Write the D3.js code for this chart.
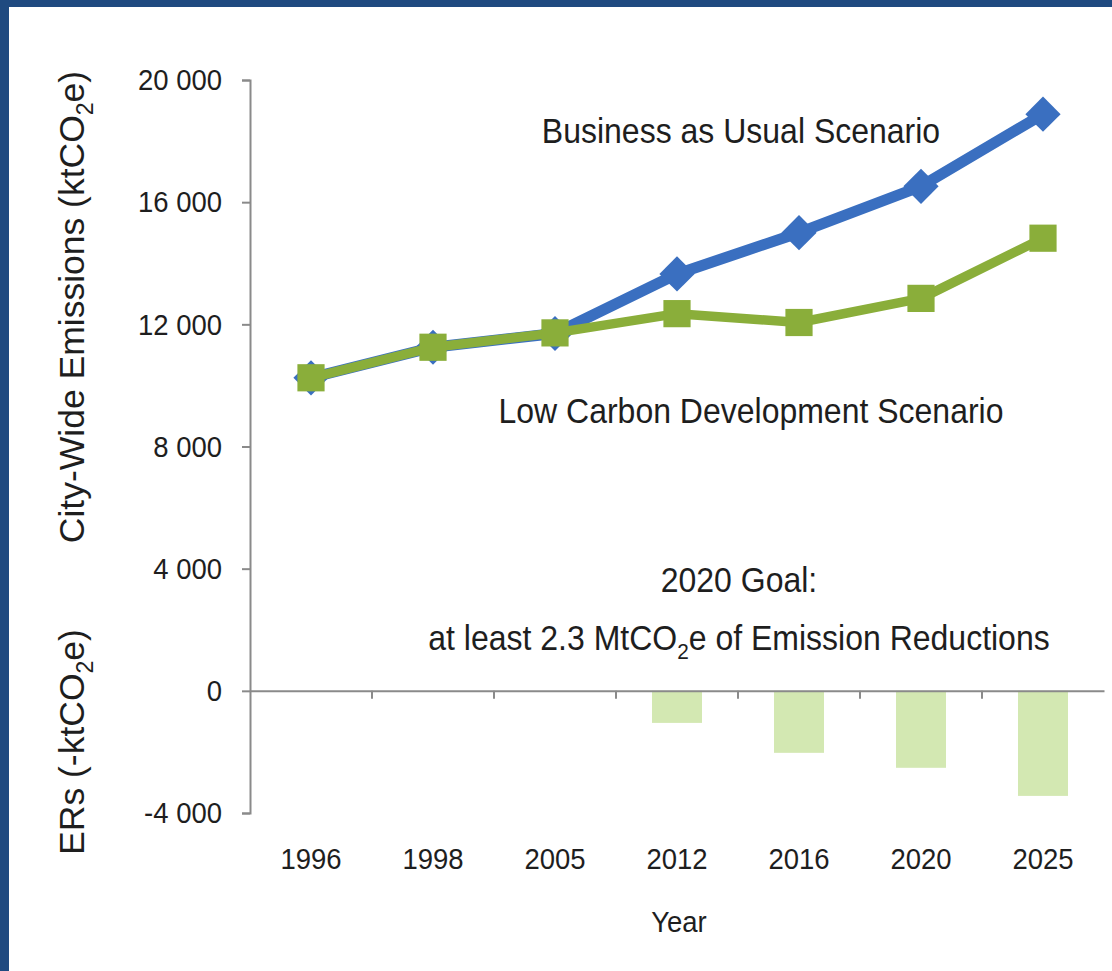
<!DOCTYPE html>
<html>
<head>
<meta charset="utf-8">
<script src="https://cdn.jsdelivr.net/npm/d3@7"></script>
<style>
  html, body { margin: 0; padding: 0; background: #fff; }
  svg { display: block; font-family: "Liberation Sans", Arial, sans-serif; }
  .tall { transform-box: fill-box; transform-origin: center; transform: scaleY(1.1); }
</style>
</head>
<body>
<script>
// ---- data ----
const years = ["1996", "1998", "2005", "2012", "2016", "2020", "2025"];
const bauValues = [10250, 11250, 11700, 13650, 15000, 16520, 18880];
const lcdValues = [10250, 11250, 11720, 12350, 12060, 12850, 14820];
const erYears = ["2012", "2016", "2020", "2025"];
const erValues = [-1050, -2030, -2520, -3440];
const yTicks = [-4000, 0, 4000, 8000, 12000, 16000, 20000];

const W = 1112, H = 971;
const svg = d3.select("body").append("svg").attr("width", W).attr("height", H);

// frame
svg.append("rect").attr("x", 0).attr("y", 0).attr("width", W).attr("height", 7).attr("fill", "#1f4a80");
svg.append("rect").attr("x", 0).attr("y", 0).attr("width", 9).attr("height", H).attr("fill", "#1f4a80");

const x = d3.scaleBand().domain(years).range([250, 1104]).paddingInner(0).paddingOuter(0);
const y = d3.scaleLinear().domain([-4000, 20000]).range([813, 80]);
const cx = d => x(d) + x.bandwidth() / 2;

const loc = d3.formatLocale({ decimal: ".", thousands: " ", grouping: [3], currency: ["", ""], minus: "-" });
const fmt = loc.format(",");

// bars
const barW = 50;
svg.append("g").selectAll("rect").data(erYears).join("rect")
  .attr("x", (d) => cx(d) - barW / 2)
  .attr("y", y(0))
  .attr("width", barW)
  .attr("height", (d, i) => y(erValues[i]) - y(0))
  .attr("fill", "#d3e8b2");

// y axis
const yAxis = svg.append("g").attr("transform", "translate(250,0)")
  .call(d3.axisLeft(y).tickValues(yTicks).tickFormat(fmt).tickSize(8).tickSizeOuter(8).tickPadding(20));
yAxis.selectAll("path, line").attr("stroke", "#8a8a8a").attr("stroke-width", 2);
yAxis.selectAll("text").attr("font-size", 27.5).attr("fill", "#1e1e1e")
  .attr("font-family", "Liberation Sans, Arial, sans-serif").attr("class", "tall");

// x axis (at zero)
const xAxis = svg.append("g").attr("transform", `translate(0,${y(0)})`)
  .call(d3.axisBottom(x).tickSize(0).tickSizeOuter(0).tickPadding(158));
xAxis.select("path").attr("stroke", "#8a8a8a").attr("stroke-width", 2);
xAxis.selectAll("text").attr("font-size", 27.5).attr("fill", "#1e1e1e")
  .attr("font-family", "Liberation Sans, Arial, sans-serif").attr("class", "tall");
// category boundary ticks
svg.append("g").selectAll("line").data(years.slice(1)).join("line")
  .attr("x1", d => x(d)).attr("x2", d => x(d))
  .attr("y1", y(0)).attr("y2", y(0) + 8)
  .attr("stroke", "#8a8a8a").attr("stroke-width", 2);

// lines
const line = d3.line().x(d => cx(d[0])).y(d => y(d[1]));
const bau = years.map((d, i) => [d, bauValues[i]]);
const lcd = years.map((d, i) => [d, lcdValues[i]]);
const blue = "#3a6fc0", green = "#8aae3a";

svg.append("path").datum(bau).attr("d", line).attr("fill", "none")
  .attr("stroke", blue).attr("stroke-width", 11).attr("stroke-linejoin", "round");
svg.append("g").selectAll("path").data(bau).join("path")
  .attr("d", d3.symbol(d3.symbolSquare, 620)())
  .attr("transform", d => `translate(${cx(d[0])},${y(d[1])}) rotate(45)`)
  .attr("fill", blue);

svg.append("path").datum(lcd).attr("d", line).attr("fill", "none")
  .attr("stroke", green).attr("stroke-width", 9.5).attr("stroke-linejoin", "round");
svg.append("g").selectAll("path").data(lcd).join("path")
  .attr("d", d3.symbol(d3.symbolSquare, 740)())
  .attr("transform", d => `translate(${cx(d[0])},${y(d[1])})`)
  .attr("fill", green);

// annotations
function addText(xp, yp, size, parts, anchor) {
  const t = svg.append("text").attr("x", xp).attr("y", yp).attr("class", "tall")
    .attr("font-size", size).attr("fill", "#1e1e1e").attr("text-anchor", anchor || "middle");
  parts.forEach(p => {
    if (p.sub) {
      t.append("tspan").attr("font-size", size * 0.65).attr("dy", size * 0.25).text(p.t);
    } else if (p.after) {
      t.append("tspan").attr("dy", -size * 0.25).text(p.t);
    } else {
      t.append("tspan").text(p.t);
    }
  });
  return t;
}
addText(741, 142, 32, [{ t: "Business as Usual Scenario" }]);
addText(751, 422, 32, [{ t: "Low Carbon Development Scenario" }]);
addText(739, 591, 32, [{ t: "2020 Goal:" }]);
addText(739, 649, 32, [{ t: "at least 2.3 MtCO" }, { t: "2", sub: true }, { t: "e of Emission Reductions", after: true }]);
addText(679, 931, 27.5, [{ t: "Year" }]);

// axis titles
function addVTitle(cxp, cyp, size, parts) {
  const t = svg.append("text").attr("transform", `translate(${cxp},${cyp}) rotate(-90)`)
    .attr("font-size", size).attr("fill", "#1e1e1e").attr("text-anchor", "middle");
  parts.forEach(p => {
    if (p.sub) t.append("tspan").attr("font-size", size * 0.65).attr("dy", size * 0.25).text(p.t);
    else if (p.after) t.append("tspan").attr("dy", -size * 0.25).text(p.t);
    else t.append("tspan").text(p.t);
  });
}
addVTitle(84, 307, 35.5, [{ t: "City-Wide Emissions (ktCO" }, { t: "2", sub: true }, { t: "e)", after: true }]);
addVTitle(84, 742, 35.5, [{ t: "ERs (-ktCO" }, { t: "2", sub: true }, { t: "e)", after: true }]);
</script>
</body>
</html>
